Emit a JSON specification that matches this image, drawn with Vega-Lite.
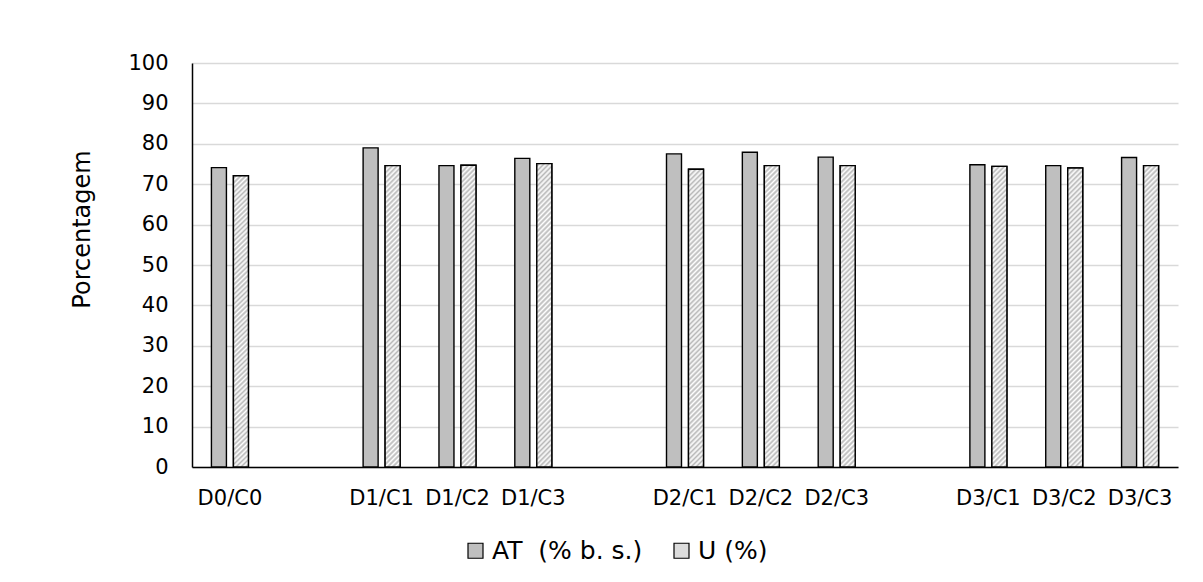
{
  "$schema": "https://vega.github.io/schema/vega-lite/v6.json",
  "width": 986,
  "height": 404,
  "autosize": {"type": "none"},
  "padding": {"left": 192, "top": 63, "right": 25, "bottom": 115},
  "background": "white",
  "config": {
    "view": {"stroke": null},
    "font": "DejaVu Sans"
  },
  "data": {
    "values": [
      {"group": "D0/C0", "series": "AT\u00a0 (% b. s.)", "value": 74.1},
      {"group": "D0/C0", "series": "U (%)", "value": 72.1},
      {"group": "D1/C1", "series": "AT\u00a0 (% b. s.)", "value": 79.0},
      {"group": "D1/C1", "series": "U (%)", "value": 74.6},
      {"group": "D1/C2", "series": "AT\u00a0 (% b. s.)", "value": 74.6},
      {"group": "D1/C2", "series": "U (%)", "value": 74.7},
      {"group": "D1/C3", "series": "AT\u00a0 (% b. s.)", "value": 76.4},
      {"group": "D1/C3", "series": "U (%)", "value": 75.1},
      {"group": "D2/C1", "series": "AT\u00a0 (% b. s.)", "value": 77.5},
      {"group": "D2/C1", "series": "U (%)", "value": 73.7},
      {"group": "D2/C2", "series": "AT\u00a0 (% b. s.)", "value": 77.9},
      {"group": "D2/C2", "series": "U (%)", "value": 74.6},
      {"group": "D2/C3", "series": "AT\u00a0 (% b. s.)", "value": 76.7},
      {"group": "D2/C3", "series": "U (%)", "value": 74.6},
      {"group": "D3/C1", "series": "AT\u00a0 (% b. s.)", "value": 74.8},
      {"group": "D3/C1", "series": "U (%)", "value": 74.4},
      {"group": "D3/C2", "series": "AT\u00a0 (% b. s.)", "value": 74.6},
      {"group": "D3/C2", "series": "U (%)", "value": 74.0},
      {"group": "D3/C3", "series": "AT\u00a0 (% b. s.)", "value": 76.6},
      {"group": "D3/C3", "series": "U (%)", "value": 74.6}
    ]
  },
  "encoding": {
    "x": {
      "field": "group",
      "type": "nominal",
      "sort": null,
      "scale": {
        "domain": ["D0/C0", " ", "D1/C1", "D1/C2", "D1/C3", "  ", "D2/C1", "D2/C2", "D2/C3", "   ", "D3/C1", "D3/C2", "D3/C3"],
        "paddingInner": 0,
        "paddingOuter": 0
      },
      "axis": {
        "title": null,
        "labelAngle": 0,
        "labelFontSize": 21,
        "labelColor": "#000000",
        "labelPadding": 20,
        "ticks": false,
        "tickSize": 0,
        "domainColor": "#000000",
        "domainWidth": 1.5,
        "grid": false
      }
    },
    "xOffset": {
      "field": "series",
      "type": "nominal",
      "sort": null,
      "scale": {
        "domain": ["AT\u00a0 (% b. s.)", "U (%)"],
        "paddingInner": 0.318,
        "paddingOuter": 0.883
      }
    },
    "y": {
      "field": "value",
      "type": "quantitative",
      "scale": {"domain": [0, 100], "nice": false},
      "axis": {
        "title": "Porcentagem",
        "values": [0, 10, 20, 30, 40, 50, 60, 70, 80, 90, 100],
        "grid": true,
        "gridColor": "#d9d9d9",
        "gridWidth": 1.5,
        "domainColor": "#000000",
        "domainWidth": 1.5,
        "ticks": false,
        "tickSize": 0,
        "labelFontSize": 21,
        "labelColor": "#000000",
        "labelPadding": 24,
        "titleFontSize": 24,
        "titleFontWeight": "normal",
        "titleColor": "#000000",
        "titlePadding": 33,
        "titleY": 166
      }
    }
  },
  "layer": [
    {
      "mark": {"type": "bar", "stroke": "#000000", "strokeWidth": 1.4},
      "encoding": {
        "color": {
          "field": "series",
          "type": "nominal",
          "sort": null,
          "scale": {"domain": ["AT\u00a0 (% b. s.)", "U (%)"], "range": ["#bfbfbf", "#dcdcdc"]},
          "legend": {
            "title": null,
            "orient": "none",
            "legendX": 271,
            "legendY": 475,
            "direction": "horizontal",
            "padding": 0,
            "symbolType": "square",
            "symbolSize": 225,
            "symbolStrokeColor": "#000000",
            "symbolStrokeWidth": 1.2,
            "symbolOpacity": 1,
            "labelFontSize": 25,
            "labelColor": "#000000",
            "labelOffset": 4,
            "columnPadding": 26,
            "encode": {
              "symbols": {
                "update": {
                  "stroke": {"value": "#000000"},
                  "strokeWidth": {"value": 1.2},
                  "fill": {
                    "signal": "datum.value === 'U (%)' ? {gradient: 'linear', x1: 0, y1: 0, x2: 1, y2: 1, stops: [{offset: 0, color: '#ffffff'}, {offset: 0.125, color: '#b0b0b0'}, {offset: 0.25, color: '#ffffff'}, {offset: 0.375, color: '#b0b0b0'}, {offset: 0.5, color: '#ffffff'}, {offset: 0.625, color: '#b0b0b0'}, {offset: 0.75, color: '#ffffff'}, {offset: 0.875, color: '#b0b0b0'}, {offset: 1, color: '#ffffff'}]} : '#bfbfbf'"
                  }
                }
              }
            }
          }
        }
      }
    },
    {
      "transform": [{"filter": "datum.series === 'U (%)'"}],
      "mark": {
        "type": "bar",
        "stroke": "#000000",
        "strokeWidth": 1.4,
        "fill": {
          "gradient": "linear",
          "x1": 0, "y1": 0, "x2": 0.0526, "y2": 1.0474,
          "stops": [
            {"offset": 0, "color": "#ffffff"}, {"offset": 0.0079, "color": "#b8b8b8"},
            {"offset": 0.0159, "color": "#ffffff"}, {"offset": 0.0238, "color": "#b8b8b8"},
            {"offset": 0.0317, "color": "#ffffff"}, {"offset": 0.0397, "color": "#b8b8b8"},
            {"offset": 0.0476, "color": "#ffffff"}, {"offset": 0.0556, "color": "#b8b8b8"},
            {"offset": 0.0635, "color": "#ffffff"}, {"offset": 0.0714, "color": "#b8b8b8"},
            {"offset": 0.0794, "color": "#ffffff"}, {"offset": 0.0873, "color": "#b8b8b8"},
            {"offset": 0.0952, "color": "#ffffff"}, {"offset": 0.1032, "color": "#b8b8b8"},
            {"offset": 0.1111, "color": "#ffffff"}, {"offset": 0.1190, "color": "#b8b8b8"},
            {"offset": 0.1270, "color": "#ffffff"}, {"offset": 0.1349, "color": "#b8b8b8"},
            {"offset": 0.1429, "color": "#ffffff"}, {"offset": 0.1508, "color": "#b8b8b8"},
            {"offset": 0.1587, "color": "#ffffff"}, {"offset": 0.1667, "color": "#b8b8b8"},
            {"offset": 0.1746, "color": "#ffffff"}, {"offset": 0.1825, "color": "#b8b8b8"},
            {"offset": 0.1905, "color": "#ffffff"}, {"offset": 0.1984, "color": "#b8b8b8"},
            {"offset": 0.2063, "color": "#ffffff"}, {"offset": 0.2143, "color": "#b8b8b8"},
            {"offset": 0.2222, "color": "#ffffff"}, {"offset": 0.2302, "color": "#b8b8b8"},
            {"offset": 0.2381, "color": "#ffffff"}, {"offset": 0.2460, "color": "#b8b8b8"},
            {"offset": 0.2540, "color": "#ffffff"}, {"offset": 0.2619, "color": "#b8b8b8"},
            {"offset": 0.2698, "color": "#ffffff"}, {"offset": 0.2778, "color": "#b8b8b8"},
            {"offset": 0.2857, "color": "#ffffff"}, {"offset": 0.2937, "color": "#b8b8b8"},
            {"offset": 0.3016, "color": "#ffffff"}, {"offset": 0.3095, "color": "#b8b8b8"},
            {"offset": 0.3175, "color": "#ffffff"}, {"offset": 0.3254, "color": "#b8b8b8"},
            {"offset": 0.3333, "color": "#ffffff"}, {"offset": 0.3413, "color": "#b8b8b8"},
            {"offset": 0.3492, "color": "#ffffff"}, {"offset": 0.3571, "color": "#b8b8b8"},
            {"offset": 0.3651, "color": "#ffffff"}, {"offset": 0.3730, "color": "#b8b8b8"},
            {"offset": 0.3810, "color": "#ffffff"}, {"offset": 0.3889, "color": "#b8b8b8"},
            {"offset": 0.3968, "color": "#ffffff"}, {"offset": 0.4048, "color": "#b8b8b8"},
            {"offset": 0.4127, "color": "#ffffff"}, {"offset": 0.4206, "color": "#b8b8b8"},
            {"offset": 0.4286, "color": "#ffffff"}, {"offset": 0.4365, "color": "#b8b8b8"},
            {"offset": 0.4444, "color": "#ffffff"}, {"offset": 0.4524, "color": "#b8b8b8"},
            {"offset": 0.4603, "color": "#ffffff"}, {"offset": 0.4683, "color": "#b8b8b8"},
            {"offset": 0.4762, "color": "#ffffff"}, {"offset": 0.4841, "color": "#b8b8b8"},
            {"offset": 0.4921, "color": "#ffffff"}, {"offset": 0.5000, "color": "#b8b8b8"},
            {"offset": 0.5079, "color": "#ffffff"}, {"offset": 0.5159, "color": "#b8b8b8"},
            {"offset": 0.5238, "color": "#ffffff"}, {"offset": 0.5317, "color": "#b8b8b8"},
            {"offset": 0.5397, "color": "#ffffff"}, {"offset": 0.5476, "color": "#b8b8b8"},
            {"offset": 0.5556, "color": "#ffffff"}, {"offset": 0.5635, "color": "#b8b8b8"},
            {"offset": 0.5714, "color": "#ffffff"}, {"offset": 0.5794, "color": "#b8b8b8"},
            {"offset": 0.5873, "color": "#ffffff"}, {"offset": 0.5952, "color": "#b8b8b8"},
            {"offset": 0.6032, "color": "#ffffff"}, {"offset": 0.6111, "color": "#b8b8b8"},
            {"offset": 0.6190, "color": "#ffffff"}, {"offset": 0.6270, "color": "#b8b8b8"},
            {"offset": 0.6349, "color": "#ffffff"}, {"offset": 0.6429, "color": "#b8b8b8"},
            {"offset": 0.6508, "color": "#ffffff"}, {"offset": 0.6587, "color": "#b8b8b8"},
            {"offset": 0.6667, "color": "#ffffff"}, {"offset": 0.6746, "color": "#b8b8b8"},
            {"offset": 0.6825, "color": "#ffffff"}, {"offset": 0.6905, "color": "#b8b8b8"},
            {"offset": 0.6984, "color": "#ffffff"}, {"offset": 0.7063, "color": "#b8b8b8"},
            {"offset": 0.7143, "color": "#ffffff"}, {"offset": 0.7222, "color": "#b8b8b8"},
            {"offset": 0.7302, "color": "#ffffff"}, {"offset": 0.7381, "color": "#b8b8b8"},
            {"offset": 0.7460, "color": "#ffffff"}, {"offset": 0.7540, "color": "#b8b8b8"},
            {"offset": 0.7619, "color": "#ffffff"}, {"offset": 0.7698, "color": "#b8b8b8"},
            {"offset": 0.7778, "color": "#ffffff"}, {"offset": 0.7857, "color": "#b8b8b8"},
            {"offset": 0.7937, "color": "#ffffff"}, {"offset": 0.8016, "color": "#b8b8b8"},
            {"offset": 0.8095, "color": "#ffffff"}, {"offset": 0.8175, "color": "#b8b8b8"},
            {"offset": 0.8254, "color": "#ffffff"}, {"offset": 0.8333, "color": "#b8b8b8"},
            {"offset": 0.8413, "color": "#ffffff"}, {"offset": 0.8492, "color": "#b8b8b8"},
            {"offset": 0.8571, "color": "#ffffff"}, {"offset": 0.8651, "color": "#b8b8b8"},
            {"offset": 0.8730, "color": "#ffffff"}, {"offset": 0.8810, "color": "#b8b8b8"},
            {"offset": 0.8889, "color": "#ffffff"}, {"offset": 0.8968, "color": "#b8b8b8"},
            {"offset": 0.9048, "color": "#ffffff"}, {"offset": 0.9127, "color": "#b8b8b8"},
            {"offset": 0.9206, "color": "#ffffff"}, {"offset": 0.9286, "color": "#b8b8b8"},
            {"offset": 0.9365, "color": "#ffffff"}, {"offset": 0.9444, "color": "#b8b8b8"},
            {"offset": 0.9524, "color": "#ffffff"}, {"offset": 0.9603, "color": "#b8b8b8"},
            {"offset": 0.9683, "color": "#ffffff"}, {"offset": 0.9762, "color": "#b8b8b8"},
            {"offset": 0.9841, "color": "#ffffff"}, {"offset": 0.9921, "color": "#b8b8b8"},
            {"offset": 1, "color": "#ffffff"}
          ]
        }
      }
    }
  ]
}
